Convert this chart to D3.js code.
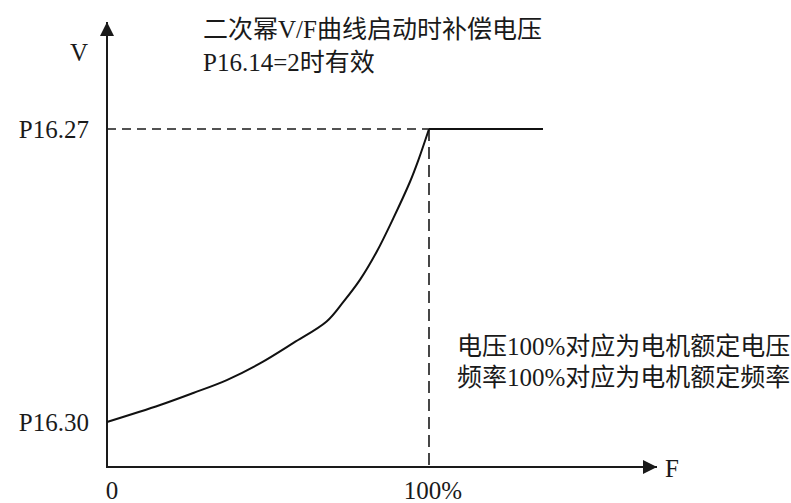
<!DOCTYPE html>
<html>
<head>
<meta charset="utf-8">
<script src="https://cdn.jsdelivr.net/npm/d3@7"></script>
<style>
  body { margin: 0; background: #fff; }
  svg text { font-family: "Liberation Serif", "Noto Sans CJK SC", serif; fill: #1a1a1a; }
</style>
</head>
<body>
<script>
const w = 791;
const h = 503;

// curve: frequency % (x) vs voltage % between P16.30 (0) and P16.27 (100)
const curveF = [0, 16.5, 26.8, 37.2, 47.5, 57.9, 68.2, 73.4, 78.6, 83.8, 88.9, 94.1, 96.7, 100];
const curveV = [0, 5.8, 9.9, 14.3, 20.0, 27.0, 34.3, 41.0, 48.6, 58.2, 69.5, 82.0, 89.4, 100];
const flatF = [100, 135.4];
const flatV = [100, 100];

const xTicks = [0, 100];
const xTickLabels = ["0", "100%"];
const yTicks = [0, 100];
const yTickLabels = ["P16.30", "P16.27"];

const titleLines = ["二次幂V/F曲线启动时补偿电压", "P16.14=2时有效"];
const noteLines = ["电压100%对应为电机额定电压", "频率100%对应为电机额定频率"];

const ox = 107, oy = 467;   // axis origin
const axisEndX = 657, axisTopY = 22;

const xScale = d3.scaleLinear().domain([0, 100]).range([107, 429]);
const yScale = d3.scaleLinear().domain([0, 100]).range([422, 129]);

const svg = d3.select("body").append("svg").attr("width", w).attr("height", h);

const defs = svg.append("defs");
defs.append("marker")
  .attr("id", "arrow")
  .attr("viewBox", "0 0 14 14")
  .attr("refX", 14).attr("refY", 7)
  .attr("markerWidth", 14).attr("markerHeight", 14)
  .attr("markerUnits", "userSpaceOnUse")
  .attr("orient", "auto")
  .append("path")
  .attr("d", "M0,0 L14,7 L0,14 Z")
  .attr("fill", "#1a1a1a");

// axes
svg.append("line")
  .attr("x1", ox).attr("y1", oy).attr("x2", axisEndX).attr("y2", oy)
  .attr("stroke", "#1a1a1a").attr("stroke-width", 2)
  .attr("marker-end", "url(#arrow)");
svg.append("line")
  .attr("x1", ox).attr("y1", oy + 1).attr("x2", ox).attr("y2", axisTopY)
  .attr("stroke", "#1a1a1a").attr("stroke-width", 2)
  .attr("marker-end", "url(#arrow)");

// guide lines
svg.append("line")
  .attr("x1", xScale(0)).attr("x2", xScale(100))
  .attr("y1", yScale(100)).attr("y2", yScale(100))
  .attr("stroke", "#1a1a1a").attr("stroke-width", 1.6)
  .attr("stroke-dasharray", "9,6");
svg.append("line")
  .attr("x1", xScale(100)).attr("x2", xScale(100))
  .attr("y1", yScale(100)).attr("y2", oy)
  .attr("stroke", "#1a1a1a").attr("stroke-width", 1.6)
  .attr("stroke-dasharray", "12,6");

// curve
const curveLine = d3.line()
  .x((d, i) => xScale(curveF[i]))
  .y((d, i) => yScale(curveV[i]))
  .curve(d3.curveCatmullRom.alpha(0.5));
svg.append("path")
  .attr("d", curveLine(curveF))
  .attr("fill", "none").attr("stroke", "#111").attr("stroke-width", 2);

const flatLine = d3.line()
  .x((d, i) => xScale(flatF[i]))
  .y((d, i) => yScale(flatV[i]));
svg.append("path")
  .attr("d", flatLine(flatF))
  .attr("fill", "none").attr("stroke", "#111").attr("stroke-width", 2);

// tick labels
svg.selectAll(".ylab")
  .data(yTicks)
  .enter()
  .append("text")
  .attr("class", "ylab")
  .attr("x", 89)
  .attr("y", (d) => yScale(d) + 9)
  .attr("text-anchor", "end")
  .attr("font-size", 25)
  .text((d, i) => yTickLabels[i]);

svg.selectAll(".xlab")
  .data(xTicks)
  .enter()
  .append("text")
  .attr("class", "xlab")
  .attr("x", (d) => (d === 0 ? xScale(d) + 5 : xScale(d) + 4))
  .attr("y", 499)
  .attr("text-anchor", "middle")
  .attr("font-size", 25)
  .text((d, i) => xTickLabels[i]);

// axis names
svg.append("text").attr("x", 79).attr("y", 61)
  .attr("text-anchor", "middle").attr("font-size", 25).text("V");
svg.append("text").attr("x", 665).attr("y", 477)
  .attr("font-size", 25).text("F");

// notes
svg.selectAll(".title")
  .data(titleLines)
  .enter()
  .append("text")
  .attr("class", "title")
  .attr("x", 203)
  .attr("y", (d, i) => 38 + i * 33)
  .attr("font-size", 25)
  .text((d) => d);

svg.selectAll(".note")
  .data(noteLines)
  .enter()
  .append("text")
  .attr("class", "note")
  .attr("x", 457)
  .attr("y", (d, i) => 355 + i * 31)
  .attr("font-size", 25)
  .text((d) => d);
</script>
</body>
</html>
